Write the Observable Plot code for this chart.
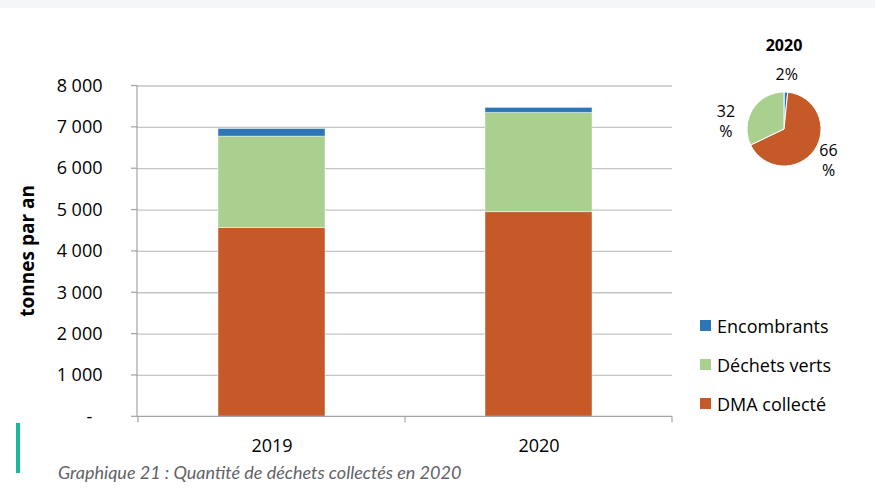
<!DOCTYPE html>
<html><head><meta charset="utf-8">
<script src="https://cdn.jsdelivr.net/npm/d3@7"></script>
<script src="https://cdn.jsdelivr.net/npm/@observablehq/plot@0.6"></script>
<style>
body{margin:0;background:#fff;width:875px;height:492px;position:relative;overflow:hidden;font-family:"Open Sans",sans-serif}
#strip{position:absolute;left:0;top:0;width:875px;height:8px;background:#f5f6f8}
#chart{position:absolute;left:0;top:0}
#legend{position:absolute;left:700px;top:306px}
.item{display:flex;align-items:center;height:39px;font-size:18px;color:#000;font-family:"Open Sans",sans-serif}
.sw{width:11px;height:11px;margin-right:6px;flex:none}
#caption{position:absolute;left:58px;top:461px;font:italic 18px Lato,sans-serif;color:#5f6368;white-space:nowrap}
#bar{position:absolute;left:16px;top:423px;width:4px;height:50px;background:#16b999}
</style></head><body>
<div id="strip"></div><div id="chart"></div><div id="legend"></div><div id="bar"></div>
<div id="caption">Graphique 21 : Quantité de déchets collectés en 2020</div>
<script>
const years = ["2019", "2020"];
const seriesNames = ["DMA collecté", "Déchets verts", "Encombrants"];
const dmaCollecte = [4565, 4950];
const dechetsVerts = [2210, 2400];
const encombrants = [185, 120];
const seriesColors = ["#c55a28", "#a9d08e", "#2e75b6"];
const yTicks = [0, 1000, 2000, 3000, 4000, 5000, 6000, 7000, 8000];
const yTickLabels = ["-\u2007", "1 000", "2 000", "3 000", "4 000", "5 000", "6 000", "7 000", "8 000"];
const yTitle = "tonnes par an";
const pieTitle = "2020";
const pieOrder = ["Encombrants", "DMA collecté", "Déchets verts"];
const pieLabels = {"Encombrants": "2%", "DMA collecté": "66\n%", "Déchets verts": "32\n%"};
const legendOrder = ["Encombrants", "Déchets verts", "DMA collecté"];

const seriesValues = [dmaCollecte, dechetsVerts, encombrants];
const rows = [];
seriesNames.forEach((s, si) => years.forEach((yr, i) => rows.push({year: yr, series: s, value: seriesValues[si][i]})));
const colorOf = s => seriesColors[seriesNames.indexOf(s)];
// "best fit" label placement nudges (layout only)
const labelNudge = {"Déchets verts": [-12, 21]};

function decorations(index, scales, values, dims) {
  const {x, y} = scales;
  const g = d3.create("svg:g");
  const axisColor = "#a3a3a3";
  const left = dims.marginLeft, right = dims.width - dims.marginRight;
  const y0 = y(0), yTop = y(yTicks[yTicks.length - 1]);
  g.append("line").attr("x1", left).attr("x2", left).attr("y1", yTop).attr("y2", y0)
    .attr("stroke", axisColor).attr("stroke-width", 1.2);
  for (const t of yTicks) {
    g.append("line").attr("x1", left - 6).attr("x2", left).attr("y1", y(t)).attr("y2", y(t))
      .attr("stroke", axisColor).attr("stroke-width", 1.2);
  }
  g.append("line").attr("x1", left).attr("x2", right).attr("y1", y0).attr("y2", y0)
    .attr("stroke", axisColor).attr("stroke-width", 1.2);
  const bw = x.bandwidth ? x.bandwidth() : 0;
  const step = x(years[1]) - x(years[0]);
  const centers = years.map(v => x(v) + bw / 2);
  const bounds = [centers[0] - step / 2, ...centers.map(c => c + step / 2)];
  for (const b of bounds) {
    g.append("line").attr("x1", b).attr("x2", b).attr("y1", y0).attr("y2", y0 + 6)
      .attr("stroke", axisColor).attr("stroke-width", 1.2);
  }
  g.append("text").attr("transform", `translate(27,${(yTop + y0) / 2}) rotate(-90)`)
    .attr("text-anchor", "middle").attr("dy", "0.35em")
    .attr("font-weight", "bold").attr("font-size", 19).attr("fill", "#000").text(yTitle);

  const yi = years.indexOf(pieTitle);
  const pieData = pieOrder.map(s => ({series: s, value: seriesValues[seriesNames.indexOf(s)][yi]}));
  const cx = dims.width - 91, cy = 129, r = 37;
  const arcs = d3.pie().sort(null).value(d => d.value)(pieData);
  const arc = d3.arc().innerRadius(0).outerRadius(r);
  const pg = g.append("g").attr("transform", `translate(${cx},${cy})`);
  pg.selectAll("path").data(arcs).join("path").attr("d", arc)
    .attr("fill", d => colorOf(d.data.series)).attr("stroke", "#fff").attr("stroke-width", 1);
  for (const a of arcs) {
    const mid = (a.startAngle + a.endAngle) / 2;
    const R = r * 1.47;
    const nudge = labelNudge[a.data.series] || [0, 0];
    const lx = Math.sin(mid) * R + nudge[0], ly = -Math.cos(mid) * R + nudge[1];
    const lines = pieLabels[a.data.series].split("\n");
    const t = pg.append("text").attr("text-anchor", "middle").attr("font-size", 16).attr("fill", "#000");
    lines.forEach((ln, i) => {
      t.append("tspan").attr("x", lx).attr("y", ly + (i - (lines.length - 1) / 2) * 20).attr("dy", "0.35em").text(ln);
    });
  }
  pg.append("text").attr("x", 0).attr("y", -84).attr("dy", "0.35em").attr("text-anchor", "middle")
    .attr("font-weight", "bold").attr("font-size", 16).attr("fill", "#000").text(pieTitle);
  return g.node();
}

const chart = Plot.plot({
  width: 875,
  height: 460,
  marginLeft: 137,
  marginRight: 203,
  marginTop: 85.5,
  marginBottom: 43.7,
  style: {fontFamily: "Open Sans, sans-serif", fontSize: "18px", color: "#000", background: "transparent", overflow: "visible"},
  x: {domain: years, paddingInner: 0.6, paddingOuter: 0.3, tickSize: 0, tickPadding: 22, label: null},
  y: {domain: [0, 8000], ticks: yTicks, tickFormat: d => yTickLabels[yTicks.indexOf(d)], tickSize: 0, tickPadding: 35, label: null},
  color: {domain: seriesNames, range: seriesColors},
  marks: [
    Plot.ruleY(yTicks.slice(1), {stroke: "#c4c4c4", strokeWidth: 1.3}),
    Plot.barY(rows, {x: "year", y: "value", fill: "series", order: seriesNames, stroke: "#ffffff", strokeOpacity: 0.45, strokeWidth: 1}),
    decorations
  ]
});
document.getElementById("chart").appendChild(chart);

const legend = d3.select("#legend");
for (const s of legendOrder) {
  const it = legend.append("div").attr("class", "item");
  it.append("div").attr("class", "sw").style("background", colorOf(s));
  it.append("span").text(s);
}
</script>
</body></html>
